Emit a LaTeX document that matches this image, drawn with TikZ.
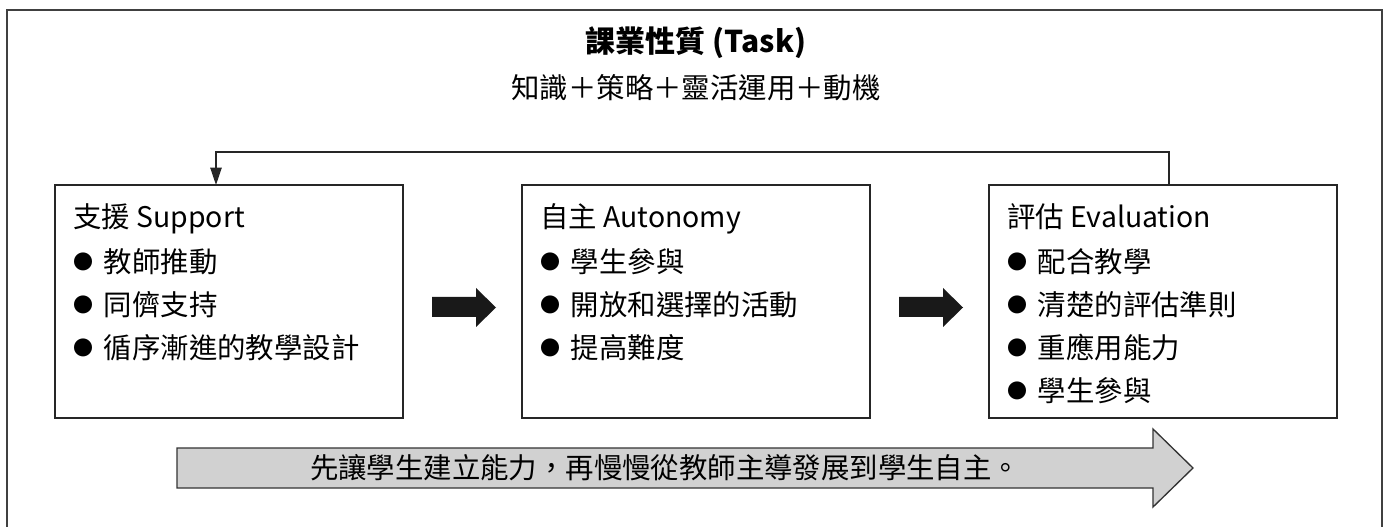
\documentclass[tikz,border=0pt]{standalone}
\usepackage{fontspec}
\setmainfont{Noto Sans CJK TC}
\usetikzlibrary{positioning,arrows.meta,calc}

\newcommand{\stagedot}{\raisebox{2.6pt}{\fontsize{15pt}{15pt}\selectfont ●}\hspace{8pt}}

\tikzset{
  frameline/.style={draw=black!75, line width=1.5pt},
  stagebox/.style={draw=black!85, line width=1.1pt, minimum width=261pt, minimum height=174.75pt, inner sep=0pt, outer sep=0pt},
  stagetext/.style={anchor=north west, align=left, inner sep=0pt, font=\fontsize{21.3pt}{32.25pt}\selectfont},
  feedback/.style={draw=black!85, line width=1.1pt, -{Triangle[length=13pt,width=8.5pt]}},
  stepshaft/.style={fill=black!90},
  progress/.style={draw=black!80, line width=1pt, fill=black!18},
}

\begin{document}
\begin{tikzpicture}[x=0.75pt,y=0.75pt,yscale=-1,xscale=1]
\useasboundingbox (0,0) rectangle (1389,527);

% outer frame (open at the bottom)
\draw[frameline] (7,535) -- (7,10) -- (1382,10) -- (1382,535);

% Text Node
\node[font=\bfseries\fontsize{22.5pt}{27pt}\selectfont] (task) at (696,43) {課業性質 (Task)};
% Text Node
\node[font=\fontsize{21.3pt}{26pt}\selectfont] (taskmix) at (696,88) {知識＋策略＋靈活運用＋動機};

% three stages
\node[stagebox] (sup) at (229,301.5) {};
\node[stagebox, right=89.25pt of sup] (aut) {};
\node[stagebox, right=89.25pt of aut] (eva) {};

\node[stagetext] (supt) at ($(sup.north west)+(18,18)$) {支援 Support\\[2pt]\stagedot 教師推動\\\stagedot 同儕支持\\\stagedot 循序漸進的教學設計};
\node[stagetext] (autt) at ($(aut.north west)+(18,18)$) {自主 Autonomy\\[2pt]\stagedot 學生參與\\\stagedot 開放和選擇的活動\\\stagedot 提高難度};
\node[stagetext] (evat) at ($(eva.north west)+(18,18)$) {評估 Evaluation\\[2pt]\stagedot 配合教學\\\stagedot 清楚的評估準則\\\stagedot 重應用能力\\\stagedot 學生參與};

% black arrows between the stages
\foreach \a/\b in {sup/aut,aut/eva}
  \fill[stepshaft] ($(\a.east)+(29,-4.5)$) -- ++(44,0) -- ++(0,-9) -- ++(20,19.5) -- ++(-20,19.5) -- ++(0,-10) -- ++(-44,0) -- cycle;

% feedback from evaluation back to support
\draw[feedback] ($(eva.north)+(6,0)$) -- ++(0,-33) -| ($(sup.north)+(-13,0)$);

% big grey arrow
\draw[progress] (177,448) -- (1153,448) -- (1153,429) -- (1193,468) -- (1153,507) -- (1153,488) -- (177,488) -- cycle;
\node[font=\fontsize{21.3pt}{26pt}\selectfont] (note) at (665,468) {先讓學生建立能力，再慢慢從教師主導發展到學生自主。};

\end{tikzpicture}
\end{document}
